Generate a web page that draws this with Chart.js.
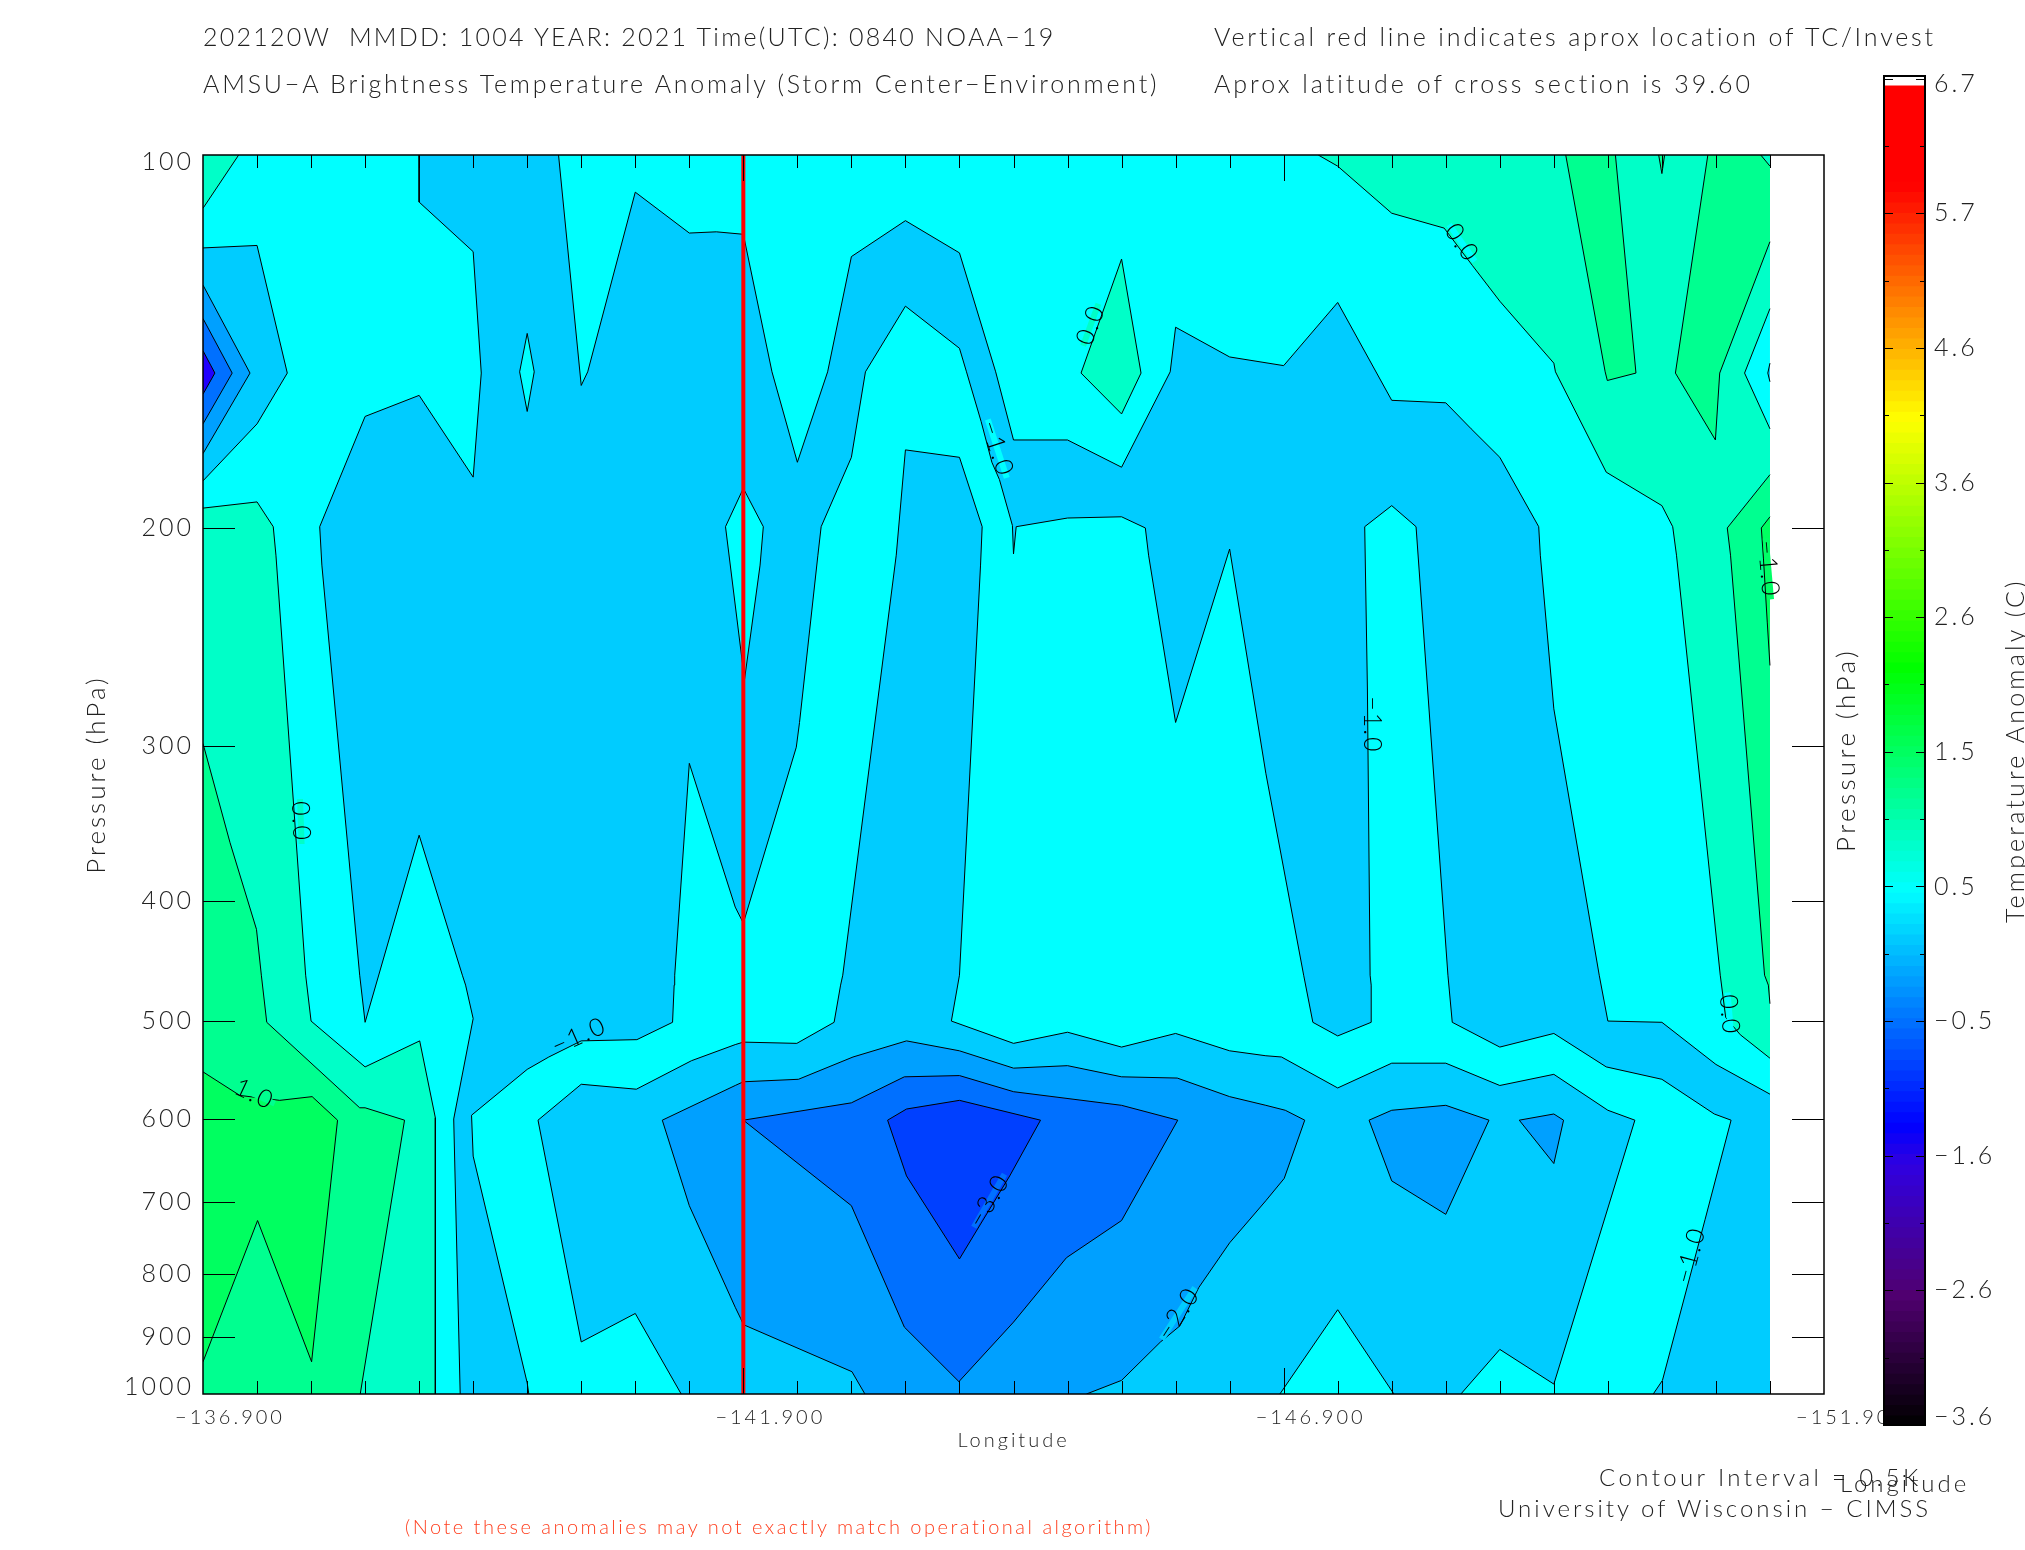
<!DOCTYPE html>
<html>
<head>
<meta charset="utf-8">
<title>AMSU-A Brightness Temperature Anomaly</title>
<script src="https://cdn.jsdelivr.net/npm/chart.js@4/dist/chart.umd.min.js"></script>
<style>
    html, body { margin: 0; background: #fff; }
    #page { position: relative; width: 2025px; height: 1550px; overflow: hidden; }
    canvas { position: absolute; }
    #chart { left: 0; top: 0; }
    #colorbar { left: 1830px; top: 0; }
    .txt { position: absolute; white-space: pre; font-family: Lato, "Liberation Sans", sans-serif; font-weight: 300; color: #222; line-height: 1; transform-origin: 0 0; }
</style>
</head>
<body>
<div id="page">
    <canvas id="chart" width="2025" height="1550"></canvas>
    <canvas id="colorbar" width="195" height="1550"></canvas>
</div>
<script>
// contour bands, every vertex is [longitude, log10(pressure hPa)]
const domain = [[-136.9,2],[-151.4,2],[-151.4,3],[-136.9,3]];

const coolMain = [[-138.9,2],[-138.9,2.038],[-139.4,2.078],[-139.475,2.176],[-139.4,2.26],[-138.9,2.194],[-138.4,2.211],[-137.98,2.3],[-138,2.331],
    [-138.35,2.662],[-138.4,2.7],[-138.9,2.549],[-139.3,2.662],[-139.33,2.67],[-139.4,2.697],[-139.22,2.778],[-139.28,3],
    [-139.915,3],[-139.9,2.991],[-139.4,2.808],[-139.385,2.775],[-139.9,2.738],[-140.1,2.728],[-140.4,2.715],[-140.915,2.714],[-141.245,2.7],[-141.26,2.67],
    [-141.265,2.662],[-141.4,2.491],[-141.825,2.607],[-141.9,2.62],[-142.39,2.478],[-142.42,2.458],[-142.59,2.323],[-142.62,2.3],[-142.9,2.244],[-143.03,2.175],
    [-143.4,2.122],[-143.9,2.156],[-143.965,2.175],[-144.1,2.215],[-144.2,2.248],[-144.27,2.262],[-144.39,2.299],[-144.4,2.322],[-144.425,2.3],[-144.9,2.293],
    [-145.4,2.292],[-145.62,2.301],[-145.65,2.323],[-145.9,2.458],[-146.4,2.318],[-146.735,2.499],[-147.085,2.662],[-147.17,2.7],[-147.4,2.711],[-147.71,2.7],
    [-147.71,2.67],[-147.7,2.662],[-147.675,2.431],[-147.65,2.3],[-147.9,2.283],[-148.125,2.3],[-148.42,2.662],[-148.46,2.7],[-148.9,2.72],[-149.4,2.709],
    [-149.885,2.736],[-150.4,2.746],[-150.885,2.774],[-151.04,2.779],[-150.8,2.859],[-150.405,2.989],[-150.32,3],[-151.4,3],[-151.4,2.758],[-150.9,2.734],
    [-150.4,2.7],[-149.9,2.699],[-149.82,2.662],[-149.4,2.447],[-149.275,2.323],[-149.26,2.3],[-148.9,2.244],[-148.635,2.221],[-148.4,2.2],[-147.9,2.198],
    [-147.4,2.119],[-146.9,2.17],[-146.4,2.163],[-145.9,2.139],[-145.85,2.175],[-145.4,2.252],[-144.9,2.23],[-144.4,2.23],[-144.235,2.175],[-143.9,2.079],
    [-143.4,2.053],[-142.9,2.082],[-142.68,2.175],[-142.4,2.248],[-142.165,2.175],[-141.9,2.064],[-141.65,2.062],[-141.4,2.063],[-140.9,2.03],[-140.46,2.175],
    [-140.4,2.186],[-140.19,2]];
const coolStorm = [[-143.4,2.238],[-143.9,2.244],[-144.11,2.3],[-144.095,2.331],[-143.9,2.662],[-143.825,2.699],[-144.4,2.717],[-144.9,2.708],[-145.4,2.72],
    [-145.9,2.709],[-146.4,2.723],[-146.735,2.727],[-146.88,2.728],[-147.4,2.753],[-147.9,2.733],[-148.4,2.733],[-148.9,2.751],[-149.4,2.742],[-149.9,2.771],
    [-150.15,2.779],[-149.4,2.992],[-148.9,2.964],[-148.54,3],[-147.92,3],[-147.4,2.932],[-146.865,3],[-141.325,3],[-140.9,2.935],[-140.4,2.958],[-140,2.779],
    [-140.4,2.75],[-140.91,2.754],[-141.42,2.731],[-141.825,2.718],[-141.9,2.716],[-142.395,2.717],[-142.74,2.7],[-142.8,2.67],[-142.82,2.662],[-143.315,2.323]];
const holeSmall = [[-139.9,2.144],[-139.965,2.175],[-139.9,2.207],[-139.83,2.175]];
const holeRedLine = [[-141.9,2.269],[-142.085,2.3],[-142.055,2.331],[-141.91,2.424],[-141.9,2.416],[-141.735,2.3]];
const edgeLow1 = [[-136.9,2.075],[-137.4,2.073],[-137.68,2.176],[-137.4,2.217],[-136.9,2.263]];
const edgeLow2 = [[-136.9,2.105],[-137.335,2.176],[-136.9,2.241]];
const edgeLow3 = [[-136.9,2.132],[-137.17,2.176],[-136.9,2.217]];
const edgeLow4 = [[-136.9,2.158],[-137.01,2.176],[-136.9,2.193]];
const edgeDot = [[-151.4,2.168],[-151.38,2.176],[-151.4,2.183]];

const warmTopRight = [[-147.22,2],[-147.4,2.009],[-147.9,2.047],[-148.385,2.059],[-148.645,2.089],[-148.9,2.118],[-149.4,2.168],[-149.415,2.175],[-149.885,2.256],
    [-150.4,2.283],[-150.5,2.3],[-150.535,2.323],[-150.94,2.662],[-150.99,2.696],[-151.125,2.71],[-151.4,2.729],[-151.4,2.221],[-151.165,2.176],[-151.4,2.124],[-151.4,2]];
const warmDiamond = [[-145.4,2.084],[-145.58,2.176],[-145.4,2.209],[-145.025,2.176]];
const warmLeft = [[-136.9,2.285],[-137.4,2.28],[-137.55,2.3],[-137.575,2.323],[-137.85,2.662],[-137.9,2.699],[-138.4,2.736],[-138.905,2.715],[-139.05,2.777],[-139.05,3],[-136.9,3]];
const warmCorner = [[-136.9,2.043],[-137.23,2],[-136.9,2]];
const warmCornerRight = [[-151.315,2],[-151.4,2],[-151.4,2.009]];

const green1Left = [[-136.9,2.475],[-137.15,2.555],[-137.395,2.625],[-137.44,2.662],[-137.49,2.7],[-138.35,2.769],[-138.4,2.769],[-138.765,2.779],[-138.355,3],[-136.9,3]];
const green1Stripe = [[-149.51,2],[-149.875,2.175],[-149.895,2.182],[-150.16,2.176],[-149.97,2]];
const green1Wedge = [[-150.825,2],[-150.525,2.176],[-150.895,2.23],[-150.935,2.176],[-151.4,2.07],[-151.4,2]];
const green1Spike = [[-150.37,2],[-150.4,2.015],[-150.425,2]];
const green1Right = [[-151.4,2.258],[-151.005,2.301],[-151.035,2.323],[-151.35,2.662],[-151.385,2.67],[-151.4,2.685]];
const green2Left = [[-136.9,2.74],[-137.24,2.759],[-137.61,2.763],[-137.91,2.76],[-138.145,2.779],[-137.905,2.974],[-137.405,2.86],[-136.9,2.974]];
const green2Right = [[-151.4,2.292],[-151.32,2.301],[-151.34,2.326],[-151.375,2.377],[-151.4,2.412]];

const coldBand = [[-141.15,2.779],[-141.825,2.751],[-141.9,2.748],[-142.41,2.746],[-142.915,2.728],[-143.41,2.715],[-143.9,2.723],[-144.4,2.737],[-144.9,2.735],
    [-145.4,2.744],[-145.915,2.745],[-146.4,2.76],[-146.735,2.767],[-146.915,2.771],[-147.095,2.779],[-146.905,2.826],[-146.735,2.844],[-146.4,2.878],[-146.115,2.914],
    [-145.94,2.945],[-145.76,2.958],[-145.4,2.989],[-145.075,3],[-143.025,3],[-142.905,2.982],[-141.9,2.944],[-141.875,2.939],[-141.825,2.93],[-141.4,2.848]];
const coldPatch1 = [[-147.69,2.779],[-147.9,2.771],[-148.4,2.767],[-148.8,2.779],[-148.4,2.855],[-147.9,2.828]];
const coldPatch2 = [[-149.08,2.779],[-149.4,2.774],[-149.49,2.779],[-149.4,2.814]];
const colderCore = [[-141.9,2.779],[-142.9,2.765],[-143.39,2.744],[-143.9,2.743],[-144.4,2.756],[-145.4,2.767],[-145.92,2.779],[-145.4,2.86],[-144.89,2.89],[-144.4,2.942],
    [-143.895,2.99],[-143.39,2.946],[-142.9,2.848]];
const coldestCore = [[-143.235,2.779],[-143.41,2.77],[-143.9,2.763],[-144.65,2.779],[-144.365,2.824],[-143.9,2.891],[-143.41,2.824]];

// tick labels and positions along the axes
const pressureTicks = [100, 200, 300, 400, 500, 600, 700, 800, 900, 1000];
const lonTicks = [-151.9, -146.9, -141.9, -136.9];
const lonTickLabels = ['−151.900', '−146.900', '−141.900', '−136.900'];
const gridLons = [-137.4,-137.9,-138.4,-138.9,-139.4,-139.9,-140.4,-140.9,-141.4,-141.9,-142.4,-142.9,-143.4,-143.9,-144.4,-144.9,-145.4,-145.9,-146.4,-146.9,
    -147.4,-147.9,-148.4,-148.9,-149.4,-149.9,-150.4,-150.9,-151.4];
const stormLon = -141.9;

const colorTickValues = [-3.6, -2.57, -1.54, -0.51, 0.52, 1.55, 2.58, 3.61, 4.64, 5.67, 6.7];
const colorTickLabels = ['−3.6', '−2.6', '−1.6', '−0.5', '0.5', '1.5', '2.6', '3.6', '4.6', '5.7', '6.7'];
const colorStopValues = [-3.6, -2.6, -1.6, -1.3, 0.5, 2.2, 4.1, 5.9, 6.7];
const colorStopRgb = [[0,0,0],[80,0,112],[48,0,224],[0,0,255],[0,255,255],[0,255,0],[255,255,0],[255,0,0],[255,0,0]];

// contour labels: text, lon, log10 p, angle in degrees, colour behind the text
const contourLabels = [
    ['0.0', -145.115, 2.137, -70, '#00ffc8'],
    ['−1.0', -144.25, 2.237, 72, '#00ffff'],
    ['0.0', -148.55, 2.071, 55, '#00ffff'],
    ['−1.0', -151.385, 2.334, 85, '#00ff66'],
    ['−1.0', -147.72, 2.46, 90, '#00ffff'],
    ['0.0', -137.805, 2.538, 88, '#00ffc8'],
    ['1.0', -137.375, 2.758, 25, '#00ff90'],
    ['−1.0', -140.38, 2.711, -24, '#00ccff'],
    ['−3.0', -144.175, 2.844, -60, '#0070ff'],
    ['−2.0', -145.925, 2.935, -57, '#00ccff'],
    ['−1.0', -150.665, 2.888, -75, '#00ffff'],
    ['0.0', -151.025, 2.694, 85, '#00ffff'],
];

const bands = [
    [domain, '#00ffff', false],
    [coolMain, '#00ccff', true],
    [coolStorm, '#00ccff', true],
    [holeSmall, '#00ffff', true],
    [holeRedLine, '#00ffff', true],
    [edgeLow1, '#00ccff', true],
    [edgeLow2, '#00a0ff', true],
    [edgeLow3, '#0070ff', true],
    [edgeLow4, '#2000ff', true],
    [warmTopRight, '#00ffc8', true],
    [warmDiamond, '#00ffc8', true],
    [warmLeft, '#00ffc8', true],
    [warmCorner, '#00ffc8', true],
    [edgeDot, '#00ccff', true],
    [green1Left, '#00ff90', true],
    [green1Stripe, '#00ff90', true],
    [green1Wedge, '#00ff90', true],
    [green1Spike, '#00ff90', true],
    [green1Right, '#00ff90', true],
    [warmCornerRight, '#00ffc8', true],
    [green2Left, '#00ff60', true],
    [green2Right, '#00ff60', true],
    [coldBand, '#00a0ff', true],
    [coldPatch1, '#00a0ff', true],
    [coldPatch2, '#00a0ff', true],
    [colderCore, '#0070ff', true],
    [coldestCore, '#0040ff', true],
];

const FONT = 'Lato, "Liberation Sans", sans-serif';
const INK = '#222';

// straight edges along the data domain have no contour drawn on them
const onEdge = (a, b) =>
    (a.x === b.x && (a.x === -136.9 || a.x === -151.4)) ||
    (a.y === b.y && (Math.abs(a.y - 1000) < 1e-6 || Math.abs(a.y - 100) < 1e-6));

const datasets = [];
bands.forEach(([poly, color, outline]) => {
    const points = poly.concat([poly[0]]).map(([lon, logP]) => ({ x: lon, y: Math.pow(10, logP) }));
    datasets.push({
        data: points, showLine: true, pointRadius: 0, borderWidth: 0,
        borderColor: 'rgba(0,0,0,0)', backgroundColor: color, fill: 'shape',
    });
    if (outline) {
        datasets.push({
            data: points, showLine: true, pointRadius: 0, borderWidth: 1, borderColor: '#000', fill: false,
            segment: { borderColor: c => onEdge(c.p0.parsed, c.p1.parsed) ? 'rgba(0,0,0,0)' : '#000' },
        });
    }
});
datasets.push({
    data: [{ x: stormLon, y: 100 }, { x: stormLon, y: 1000 }],
    showLine: true, pointRadius: 0, borderWidth: 4, borderColor: '#ff0000', fill: false,
});
datasets.forEach((d, i) => { d.order = -i; });

const plotMarks = {
    id: 'plotMarks',
    beforeDraw(chart) {
        chart.ctx.letterSpacing = '3px';
        // 100 and 1000 sit inside the frame in the original
        const y = chart.scales.y;
        y.getLabelItems().forEach((item, i) => {
            const off = i === 0 ? 7 : i === pressureTicks.length - 1 ? -7 : 0;
            item.options.translation[1] = y.getPixelForValue(pressureTicks[i]) + off;
        });
    },
    afterDatasetsDraw(chart) {
        const { ctx, chartArea: a, scales: { x, y } } = chart;
        ctx.save();
        ctx.letterSpacing = '0px';
        ctx.strokeStyle = '#000';
        ctx.lineWidth = 1;
        ctx.beginPath();
        gridLons.forEach(lon => {
            const px = Math.round(x.getPixelForValue(lon)) + 0.5;
            const len = lonTicks.includes(lon) ? 26 : 13;
            ctx.moveTo(px, a.top); ctx.lineTo(px, a.top + len);
            ctx.moveTo(px, a.bottom); ctx.lineTo(px, a.bottom - len);
        });
        pressureTicks.slice(1, -1).forEach(p => {
            const py = Math.round(y.getPixelForValue(p)) + 0.5;
            ctx.moveTo(a.left, py); ctx.lineTo(a.left + 32, py);
            ctx.moveTo(a.right, py); ctx.lineTo(a.right - 32, py);
        });
        ctx.stroke();
        ctx.lineWidth = 1.5;
        ctx.strokeRect(a.left, a.top, a.right - a.left, a.bottom - a.top);

        ctx.font = '300 25px ' + FONT;
        ctx.textAlign = 'center';
        ctx.textBaseline = 'middle';
        ctx.letterSpacing = '2px';
        contourLabels.forEach(([text, lon, logP, angle, color]) => {
            ctx.save();
            ctx.translate(x.getPixelForValue(lon), y.getPixelForValue(Math.pow(10, logP)));
            ctx.rotate(angle * Math.PI / 180);
            const w = ctx.measureText(text).width;
            ctx.fillStyle = color;
            ctx.fillRect(-w / 2 - 2, -3, w + 4, 6);
            ctx.fillStyle = '#000';
            ctx.fillText(text, 0, 0);
            ctx.restore();
        });
        ctx.restore();
    },
};

new Chart(document.getElementById('chart'), {
    type: 'scatter',
    data: { datasets },
    plugins: [plotMarks],
    options: {
        responsive: false,
        animation: false,
        layout: { padding: { left: 0, top: 155, right: 201, bottom: 0 } },
        plugins: { legend: { display: false }, tooltip: { enabled: false }, filler: { propagate: false } },
        scales: {
            x: {
                type: 'linear', reverse: true, min: -151.9, max: -136.9,
                afterBuildTicks: s => { s.ticks = lonTicks.map(value => ({ value })); },
                afterFit: s => { s.height = 156; s.paddingLeft = 0; s.paddingRight = 0; },
                grid: { display: false, drawTicks: false },
                border: { display: false },
                ticks: {
                    autoSkip: false, maxRotation: 0, padding: 12, labelOffset: 27, color: INK,
                    font: { family: FONT, size: 20, weight: 300 },
                    callback: (v, i) => lonTickLabels[i],
                },
                title: { display: true, text: 'Longitude', color: INK, font: { family: FONT, size: 20, weight: 300 }, padding: { top: 0, bottom: 97 } },
            },
            y: {
                type: 'logarithmic', reverse: true, min: 100, max: 1000,
                afterBuildTicks: s => { s.ticks = pressureTicks.map(value => ({ value })); },
                afterFit: s => { s.width = 203; s.paddingTop = 0; s.paddingBottom = 0; },
                grid: { display: false, drawTicks: false },
                border: { display: false },
                ticks: {
                    autoSkip: false, padding: 9, color: INK,
                    font: { family: FONT, size: 25, weight: 300 },
                    callback: (v, i) => pressureTicks[i],
                },
                title: { display: true, text: 'Pressure (hPa)', color: INK, font: { family: FONT, size: 26, weight: 300 }, padding: { top: 81, bottom: 0 } },
            },
        },
    },
});

// colour bar: one thin floating bar per colour level
const colorLevels = [], colorFills = [];
for (let v = -3.56; v < 6.68; v += 0.08) {
    let i = 0;
    while (v > colorStopValues[i + 1]) i++;
    const t = (v - colorStopValues[i]) / (colorStopValues[i + 1] - colorStopValues[i]);
    const c = colorStopRgb[i].map((s, n) => Math.round(s + t * (colorStopRgb[i + 1][n] - s)));
    colorLevels.push(v);
    colorFills.push(`rgb(${c[0]},${c[1]},${c[2]})`);
}

const barMarks = {
    id: 'barMarks',
    beforeDraw(chart) {
        chart.ctx.letterSpacing = '3px';
        const y = chart.scales.y;
        y.getLabelItems().forEach((item, i) => {
            const off = i === 0 ? -8 : i === colorTickValues.length - 1 ? 5 : 0;
            item.options.translation[1] = y.getPixelForValue(colorTickValues[i]) + off;
        });
    },
    afterDatasetsDraw(chart) {
        const { ctx, chartArea: a, scales: { y } } = chart;
        ctx.save();
        ctx.strokeStyle = '#000';
        ctx.lineWidth = 1;
        ctx.beginPath();
        colorTickValues.forEach((v, i) => {
            const py = Math.round(y.getPixelForValue(v)) + 0.5;
            ctx.moveTo(a.left, py); ctx.lineTo(a.left + 9, py);
            ctx.moveTo(a.right, py); ctx.lineTo(a.right - 9, py);
            if (i > 0) {
                const mid = Math.round(y.getPixelForValue((v + colorTickValues[i - 1]) / 2)) + 0.5;
                ctx.moveTo(a.left, mid); ctx.lineTo(a.left + 5, mid);
                ctx.moveTo(a.right, mid); ctx.lineTo(a.right - 5, mid);
            }
        });
        ctx.stroke();
        ctx.lineWidth = 2;
        ctx.strokeRect(a.left, a.top, a.right - a.left, a.bottom - a.top);
        ctx.restore();
    },
};

new Chart(document.getElementById('colorbar'), {
    type: 'bar',
    data: {
        datasets: [{
            data: colorLevels.map(v => ({ x: [0, 1], y: v })),
            backgroundColor: colorFills,
            barPercentage: 1, categoryPercentage: 1, borderWidth: 0, inflateAmount: 1,
        }],
    },
    plugins: [barMarks],
    options: {
        indexAxis: 'y',
        responsive: false,
        animation: false,
        layout: { padding: { left: 54, top: 76, right: 0, bottom: 125 } },
        plugins: { legend: { display: false }, tooltip: { enabled: false } },
        scales: {
            x: { type: 'linear', min: 0, max: 1, display: false },
            y: {
                type: 'linear', position: 'right', min: -3.6, max: 6.72, offset: false,
                afterBuildTicks: s => { s.ticks = colorTickValues.map(value => ({ value })); },
                afterFit: s => { s.width = 100; s.paddingTop = 0; s.paddingBottom = 0; },
                grid: { display: false, drawTicks: false },
                border: { display: false },
                ticks: {
                    autoSkip: false, padding: 9, color: INK,
                    font: { family: FONT, size: 25, weight: 300 },
                    callback: (v, i) => colorTickLabels[i],
                },
            },
        },
    },
});

// header, footer and the axis captions the library has no place for
const captions = [
    ['202120W  MMDD: 1004 YEAR: 2021 Time(UTC): 0840 NOAA−19', 203, 24, 25, 2.27, INK, 0],
    ['AMSU−A Brightness Temperature Anomaly (Storm Center−Environment)', 203, 71, 25, 2.8, INK, 0],
    ['Vertical red line indicates aprox location of TC/Invest', 1214, 24, 25, 2.84, INK, 0],
    ['Aprox latitude of cross section is 39.60', 1214, 71, 25, 3, INK, 0],
    ['(Note these anomalies may not exactly match operational algorithm)', 405, 1516, 20, 2.5, '#ff4020', 0],
    ['Contour Interval = 0.5K', 1599, 1465, 24, 3.4, INK, 0],
    ['Longitude', 1840, 1471, 24, 3, INK, 0],
    ['University of Wisconsin − CIMSS', 1498, 1496, 24, 3, INK, 0],
    ['Pressure (hPa)', 1832, 852, 26, 3.4, INK, -90],
    ['Temperature Anomaly (C)', 2002, 923, 25, 3.2, INK, -90],
];
captions.forEach(([text, x, y, size, spacing, color, rot]) => {
    const el = document.createElement('div');
    el.className = 'txt';
    el.textContent = text;
    el.style.left = x + 'px';
    el.style.top = y + 'px';
    el.style.fontSize = size + 'px';
    el.style.letterSpacing = spacing + 'px';
    el.style.color = color;
    if (rot) el.style.transform = `rotate(${rot}deg)`;
    document.getElementById('page').appendChild(el);
});
</script>
</body>
</html>
